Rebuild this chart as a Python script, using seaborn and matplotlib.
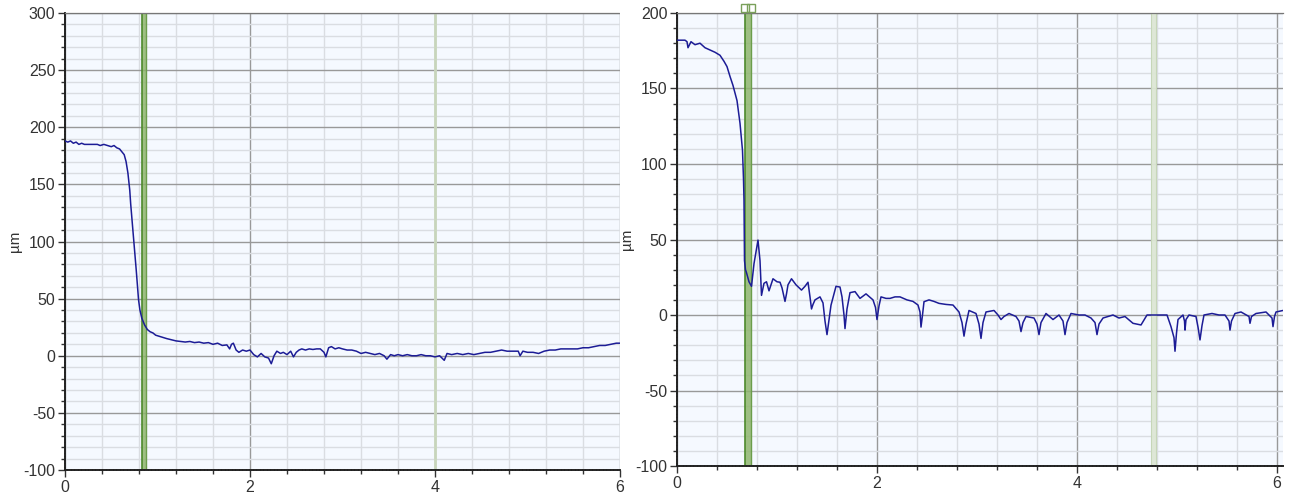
import matplotlib
matplotlib.use("Agg")
import matplotlib.pyplot as plt
import seaborn as sns
import pandas as pd
from matplotlib.ticker import MultipleLocator

# ---------------- data ----------------
left_x = [0.00, 0.03, 0.06, 0.09, 0.12, 0.15, 0.18, 0.21, 0.25, 0.30, 0.35, 0.38, 0.42, 0.46, 0.50,
          0.53, 0.56, 0.59, 0.62, 0.64, 0.66, 0.68, 0.70, 0.71, 0.725, 0.74, 0.755, 0.77, 0.785, 0.795,
          0.81, 0.83, 0.86, 0.89, 0.92, 0.95, 0.98, 1.02, 1.06, 1.10, 1.15, 1.20, 1.25, 1.30, 1.35,
          1.40, 1.45, 1.50, 1.55, 1.60, 1.65, 1.70, 1.75, 1.78, 1.80, 1.82, 1.85, 1.88, 1.92, 1.96,
          2.00, 2.04, 2.08, 2.12, 2.16, 2.20, 2.23, 2.26, 2.29, 2.33, 2.36, 2.40, 2.44, 2.47, 2.50,
          2.53, 2.56, 2.60, 2.64, 2.68, 2.72, 2.76, 2.80, 2.82, 2.85, 2.88, 2.92, 2.96, 3.00, 3.05,
          3.10, 3.15, 3.20, 3.25, 3.30, 3.35, 3.40, 3.45, 3.48, 3.52, 3.56, 3.60, 3.65, 3.70, 3.75,
          3.80, 3.85, 3.90, 3.95, 4.00, 4.05, 4.10, 4.13, 4.18, 4.24, 4.30, 4.36, 4.42, 4.48, 4.54,
          4.60, 4.66, 4.72, 4.78, 4.84, 4.90, 4.92, 4.95, 5.00, 5.06, 5.12, 5.18, 5.24, 5.30, 5.36,
          5.42, 5.48, 5.54, 5.60, 5.66, 5.72, 5.78, 5.84, 5.90, 5.96, 6.00]
left_y = [188, 187, 188, 186, 187, 185, 186, 185, 185, 185, 185, 184, 185, 184, 183,
          184, 182, 181, 178, 176, 170, 160, 145, 133, 118, 104, 90, 75, 60, 49,
          40, 33, 27, 23, 21, 20, 18, 17, 16, 15, 14, 13, 12.5, 12, 12.5,
          11.5, 12, 11, 11.5, 10, 11, 9, 9.5, 6, 10, 11, 5, 3, 5, 4,
          5, 1, -1, 2, -1, -2, -7, 0, 4, 2, 3, 1, 4, -1, 3,
          5, 6, 5, 6, 5.5, 6, 6, 3, -1, 7, 8, 6, 7, 6, 5,
          5, 4, 2, 3, 2, 1, 2, 0, -3, 1, 0, 1, 0, 1, 0,
          0, 1, 0, 0, -1, 0, -4, 2, 1, 2, 1, 2, 1, 2, 3,
          3, 4, 5, 4, 4, 4, 0, 4, 3, 3, 2, 4, 5, 5, 6,
          6, 6, 6, 7, 7, 8, 9, 9, 10, 11, 11]

right_x = [0.00, 0.04, 0.08, 0.10, 0.11, 0.14, 0.18, 0.23, 0.28, 0.33, 0.38, 0.43, 0.47, 0.50, 0.53,
           0.56, 0.60, 0.63, 0.655, 0.665, 0.67, 0.675, 0.685, 0.695, 0.72, 0.745, 0.77, 0.79, 0.81,
           0.83, 0.845, 0.87, 0.895, 0.92, 0.96, 1.00, 1.03, 1.05, 1.07, 1.08, 1.095, 1.11, 1.145,
           1.19, 1.245, 1.28, 1.31, 1.33, 1.345, 1.36, 1.38, 1.43, 1.46, 1.48, 1.50, 1.52, 1.54,
           1.59, 1.63, 1.65, 1.67, 1.68, 1.70, 1.73, 1.78, 1.83, 1.89, 1.96, 1.985, 2.00, 2.02,
           2.04, 2.09, 2.13, 2.18, 2.23, 2.30, 2.36, 2.41, 2.43, 2.44, 2.455, 2.47, 2.52, 2.57,
           2.62, 2.69, 2.76, 2.82, 2.85, 2.87, 2.89, 2.92, 2.99, 3.02, 3.04, 3.06, 3.09, 3.17,
           3.21, 3.24, 3.27, 3.32, 3.39, 3.42, 3.44, 3.46, 3.49, 3.57, 3.60, 3.62, 3.64, 3.69,
           3.76, 3.82, 3.86, 3.88, 3.90, 3.94, 4.02, 4.08, 4.14, 4.18, 4.20, 4.22, 4.26, 4.36,
           4.42, 4.48, 4.56, 4.64, 4.70, 4.80, 4.90, 4.94, 4.97, 4.98, 4.995, 5.01, 5.06, 5.075,
           5.08, 5.09, 5.12, 5.19, 5.21, 5.23, 5.25, 5.27, 5.35, 5.42, 5.48, 5.52, 5.53, 5.545,
           5.58, 5.64, 5.72, 5.73, 5.745, 5.79, 5.89, 5.95, 5.96, 5.975, 5.99, 6.06]
right_y = [182, 182, 182, 181, 177, 181, 179, 180, 177, 175.5, 174, 172, 168, 164.5, 158,
           152, 142, 127, 109, 90, 76, 36, 30, 28, 22, 19, 34, 42, 49.6,
           36, 13, 21, 22, 16, 24, 22, 21.7, 18, 12, 9, 14, 20, 24,
           20, 16.5, 19, 21.7, 12, 4, 7, 10, 12, 8, -4, -13, -3, 6.5,
           19, 18.5, 12, 0, -9, 4, 14.8, 15.5, 11, 14, 10, 5, -3, 6,
           12, 11, 11, 12, 12, 10, 9, 6.6, 2, -8, 0, 8.8, 10, 9,
           7.7, 7, 6.6, 2, -5, -14, -6, 3, 1, -6, -15.5, -5, 2, 3,
           0, -3, -1, 1, -1, -4, -11, -5, -1, -2, -6, -13, -5, 1,
           -3, 0, -4, -13, -5, 1, 0, 0, -2, -5, -13, -6, -2, 0,
           -2, -1, -5.5, -6.6, 0, 0, 0, -7.7, -15, -24, -12, -3, 0, -4,
           -10, -3, 0, -1, -8, -16.5, -7, 0, 1, 0, 0, -4, -10, -4,
           1, 2, -1, -5.5, -1, 1, 2, -2, -7.7, -1, 2, 3]

left_band = [0.83, 0.88]
left_line = [3.99, 4.02]
right_band = [0.68, 0.74]
right_light_band = [4.74, 4.79]

x_ticks = [0, 2, 4, 6]
left_yticks = [-100, -50, 0, 50, 100, 150, 200, 250, 300]
right_yticks = [-100, -50, 0, 50, 100, 150, 200]
ylabel = "µm"

# ---------------- style ----------------
sns.set_style("white")
plt.rcParams["font.family"] = ["Liberation Sans", "DejaVu Sans"]
plt.rcParams["axes.unicode_minus"] = False

fig = plt.figure(figsize=(12.9, 4.94), dpi=100)
ax1 = fig.add_axes([65 / 1290, 1 - 470 / 494, (620 - 65) / 1290, (470 - 13) / 494])
ax2 = fig.add_axes([677 / 1290, 1 - 466 / 494, (1283 - 677) / 1290, (466 - 13) / 494])

bg = "#f5f9ff"
line_col = "#1c1c96"
major_col = "#999999"
minor_col = "#dadde2"


def style(ax, xlim, ylim, yticks):
    ax.set_facecolor(bg)
    ax.set_xlim(*xlim)
    ax.set_ylim(*ylim)
    ax.set_xticks(x_ticks)
    ax.set_yticks(yticks)
    ax.xaxis.set_minor_locator(MultipleLocator(0.4))
    ax.yaxis.set_minor_locator(MultipleLocator(10))
    ax.grid(True, which="minor", color=minor_col, linewidth=1.0, zorder=0)
    ax.grid(True, which="major", color=major_col, linewidth=1.0, zorder=0)
    ax.set_axisbelow(True)
    ax.tick_params(axis="both", which="both", bottom=True, left=True, top=False, right=False)
    ax.tick_params(axis="both", which="major", direction="out", length=5, width=1,
                   labelsize=11.5, colors="#333333", labelcolor="#333333", pad=2)
    ax.tick_params(axis="both", which="minor", direction="out", length=3, width=1,
                   colors="#333333")
    for s in ["left", "bottom"]:
        ax.spines[s].set_visible(True)
        ax.spines[s].set_color("#222222")
        ax.spines[s].set_linewidth(1.4)
        ax.spines[s].set_linestyle((0, (1, 0.8)))
    ax.spines["top"].set_visible(True)
    ax.spines["top"].set_color("#777777")
    ax.spines["top"].set_linewidth(0.9)
    ax.spines["top"].set_linestyle((0, (2, 1)))
    ax.spines["right"].set_visible(False)
    ax.set_xlabel("")
    ax.set_ylabel(ylabel, fontsize=11, color="#333333", labelpad=1)


# left panel
df_l = pd.DataFrame({"x": left_x, "y": left_y})
ax1.axvspan(left_band[0], left_band[1], color="#8fb56d", alpha=0.85, zorder=1, lw=0)
ax1.axvline(left_band[0], color="#4d8a2c", lw=1.2, zorder=1)
ax1.axvline(left_band[1], color="#6b9d4b", lw=1.0, zorder=1)
ax1.axvspan(left_line[0], left_line[1], color="#cad8bf", alpha=0.95, zorder=1, lw=0)
sns.lineplot(data=df_l, x="x", y="y", ax=ax1, color=line_col, linewidth=1.1, zorder=3)
style(ax1, (0, 6), (-100, 300), left_yticks)

# right panel
df_r = pd.DataFrame({"x": right_x, "y": right_y})
ax2.axvspan(right_band[0], right_band[1], color="#8fb56d", alpha=0.85, zorder=1, lw=0)
ax2.axvline(right_band[0], color="#4d8a2c", lw=1.2, zorder=1)
ax2.axvline(right_band[1], color="#6b9d4b", lw=1.0, zorder=1)
ax2.axvspan(right_light_band[0], right_light_band[1], color="#dde7d5", alpha=0.95, zorder=1, lw=0)
ax2.axvline(right_light_band[0], color="#c6d6b8", lw=0.8, zorder=1)
ax2.axvline(right_light_band[1], color="#c6d6b8", lw=0.8, zorder=1)
sns.lineplot(data=df_r, x="x", y="y", ax=ax2, color=line_col, linewidth=1.1, zorder=3,
             sort=False)
style(ax2, (0, 6.06), (-100, 200), right_yticks)
# small handle squares above the band
ax2.plot([right_band[0], right_band[1]], [203, 203], marker="s", markersize=6,
         markerfacecolor="none", markeredgecolor="#7aa05a", linestyle="none",
         clip_on=False, zorder=5)

fig.savefig("out.png", dpi=100)
